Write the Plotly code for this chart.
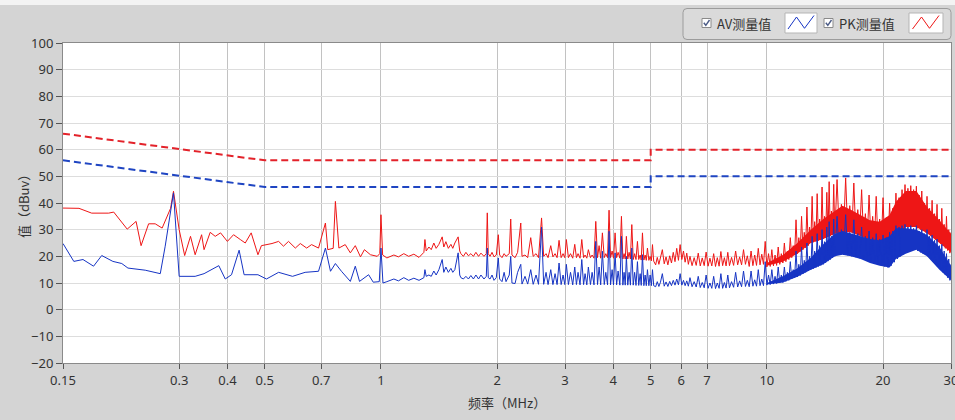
import plotly.graph_objects as go

# ---------------- data ----------------
TICK_VALS = [0.15, 0.3, 0.4, 0.5, 0.7, 1, 2, 3, 4, 5, 6, 7, 10, 20, 30]
TICK_TEXT = ["0.15", "0.3", "0.4", "0.5", "0.7", "1", "2", "3", "4", "5", "6", "7", "10", "20", "30"]

LIMIT_FREQ = [0.15, 0.5, 5.0, 5.0, 30.0]
PK_LIMIT = [66, 56, 56, 60, 60]
AV_LIMIT = [56, 46, 46, 50, 50]

PK_LOW_FREQ = [
    0.150, 0.165, 0.178, 0.197, 0.203, 0.220, 0.232, 0.239, 0.250, 0.260,
    0.271, 0.285, 0.290, 0.300, 0.310, 0.321, 0.330, 0.343, 0.348, 0.361,
    0.372, 0.384, 0.400, 0.415, 0.432, 0.445, 0.461, 0.480, 0.490, 0.522,
    0.543, 0.559, 0.576, 0.600, 0.618, 0.642, 0.661, 0.689, 0.718, 0.728,
    0.752, 0.762, 0.778, 0.808, 0.833, 0.858, 0.885, 0.906, 0.939, 0.978,
    0.993, 1.000, 1.010]
PK_LOW = [
    38.1, 38.0, 36.2, 36.2, 36.6, 30.2, 33.1, 24.0, 32.2, 32.2,
    30.6, 38.0, 44.4, 30.0, 20.3, 27.5, 20.6, 28.1, 22.5, 29.0,
    27.5, 28.8, 25.6, 28.1, 26.3, 25.0, 28.8, 20.6, 24.0, 24.8,
    25.6, 23.8, 25.6, 23.1, 24.8, 23.1, 24.4, 23.1, 32.5, 22.5,
    23.0, 40.6, 23.1, 24.4, 21.3, 24.0, 19.8, 22.5, 20.6, 20.0,
    21.0, 35.6, 20.5]

AV_LOW_FREQ = [
    0.150, 0.160, 0.169, 0.180, 0.189, 0.202, 0.213, 0.221, 0.245, 0.268,
    0.276, 0.290, 0.300, 0.330, 0.348, 0.380, 0.395, 0.410, 0.429, 0.442,
    0.480, 0.505, 0.543, 0.590, 0.636, 0.689, 0.718, 0.740, 0.762, 0.790,
    0.833, 0.858, 0.880, 0.929, 0.955, 0.990, 1.000, 1.012]
AV_LOW = [
    24.8, 18.1, 18.8, 16.3, 20.3, 18.1, 17.3, 15.6, 14.8, 13.5,
    23.8, 43.8, 12.5, 12.5, 13.5, 16.5, 11.5, 13.1, 22.3, 13.1,
    13.1, 11.5, 14.0, 12.5, 14.0, 14.4, 23.1, 14.4, 17.3, 14.4,
    10.6, 16.3, 10.6, 13.1, 10.3, 10.5, 23.1, 10.0]

FREQ_1_5 = [
    1.036, 1.080, 1.110, 1.146, 1.180, 1.217, 1.255, 1.292, 1.300, 1.310,
    1.331, 1.350, 1.371, 1.390, 1.413, 1.441, 1.455, 1.473, 1.495, 1.518,
    1.535, 1.554, 1.585, 1.600, 1.611, 1.635, 1.660, 1.685, 1.710, 1.736,
    1.762, 1.790, 1.816, 1.849, 1.875, 1.886, 1.897, 1.917, 1.940, 1.963,
    1.990, 2.014, 2.030, 2.059, 2.085, 2.109, 2.150, 2.169, 2.185, 2.226,
    2.260, 2.303, 2.320, 2.362, 2.400, 2.444, 2.480, 2.523, 2.560, 2.607,
    2.640, 2.678, 2.710, 2.754, 2.790, 2.826, 2.860, 2.894, 2.930, 2.964,
    2.995, 3.023, 3.060, 3.099, 3.140, 3.178, 3.210, 3.241, 3.280, 3.314,
    3.350, 3.380, 3.415, 3.447, 3.490, 3.525, 3.565, 3.603, 3.640, 3.675,
    3.710, 3.748, 3.790, 3.825, 3.865, 3.900, 3.935, 3.972, 4.005, 4.043,
    4.080, 4.116, 4.160, 4.199, 4.235, 4.266, 4.295, 4.325, 4.360, 4.396,
    4.430, 4.467, 4.505, 4.543, 4.580, 4.620, 4.655, 4.695, 4.725, 4.760,
    4.800, 4.837, 4.870, 4.904, 4.945, 4.983, 5.020, 5.053, 5.090]
PK_1_5 = [
    19.4, 20.5, 19.8, 21.0, 20.0, 20.8, 19.6, 21.5, 26.3, 22.0,
    23.5, 22.5, 25.0, 23.0, 24.5, 27.3, 23.5, 25.5, 23.0, 24.5,
    23.0, 25.0, 27.3, 22.0, 21.0, 20.0, 21.5, 20.2, 21.0, 20.0,
    21.5, 20.0, 21.2, 20.0, 21.0, 36.3, 21.0, 20.0, 21.5, 19.8,
    20.5, 28.1, 20.5, 19.5, 21.0, 20.0, 21.0, 34.0, 20.5, 19.5,
    21.5, 32.5, 20.0, 20.5, 19.5, 27.0, 20.0, 21.0, 19.5, 34.4,
    20.0, 21.0, 19.5, 24.0, 19.8, 21.0, 19.5, 26.0, 19.5, 21.0,
    19.5, 26.3, 19.5, 21.0, 19.3, 24.5, 19.5, 21.0, 19.3, 26.3,
    19.5, 20.5, 19.3, 22.5, 19.5, 20.5, 19.3, 33.1, 19.5, 24.0,
    19.3, 28.8, 19.5, 21.0, 19.5, 37.3, 19.5, 22.0, 19.3, 28.8,
    19.5, 21.5, 19.3, 35.0, 19.0, 21.0, 19.0, 27.5, 19.0, 21.5,
    19.0, 31.9, 18.8, 21.0, 18.8, 25.6, 18.8, 20.5, 18.6, 28.8,
    18.6, 20.5, 18.5, 23.1, 18.5, 20.0, 18.3, 24.4, 18.2]
AV_1_5 = [
    10.5, 11.5, 10.8, 12.0, 11.0, 11.8, 11.0, 12.0, 15.0, 12.5,
    13.0, 12.5, 14.5, 13.0, 15.0, 18.8, 14.0, 16.0, 14.0, 15.5,
    14.0, 15.0, 21.3, 13.0, 12.0, 11.5, 12.5, 11.5, 12.8, 11.5,
    13.0, 11.5, 13.0, 11.5, 12.5, 23.1, 12.0, 11.5, 13.0, 11.0,
    12.0, 19.4, 11.5, 10.5, 14.0, 10.5, 13.0, 20.0, 10.0, 9.8,
    14.0, 17.0, 9.6, 12.5, 9.6, 15.0, 9.5, 13.0, 9.5, 31.0,
    9.5, 14.0, 9.4, 15.0, 9.4, 13.5, 9.4, 17.5, 9.4, 13.0,
    9.4, 17.0, 9.4, 14.0, 9.3, 16.0, 9.4, 14.0, 9.3, 18.8,
    9.4, 13.5, 9.3, 16.0, 9.4, 14.0, 9.3, 25.6, 9.4, 16.0,
    9.3, 21.9, 9.4, 14.0, 9.3, 29.4, 9.3, 15.0, 9.3, 21.3,
    9.3, 14.5, 9.2, 27.5, 9.2, 14.0, 9.2, 20.0, 9.2, 14.0,
    9.2, 23.1, 9.2, 14.0, 9.1, 18.0, 9.1, 13.5, 9.1, 20.6,
    9.0, 13.0, 9.0, 15.0, 9.0, 13.0, 9.0, 15.0, 9.0]

FREQ_5_10 = [
    5.15, 5.20, 5.25, 5.30, 5.36, 5.42, 5.48, 5.54, 5.60, 5.66,
    5.72, 5.78, 5.84, 5.90, 5.96, 6.02, 6.08, 6.14, 6.20, 6.26,
    6.32, 6.40, 6.48, 6.56, 6.64, 6.72, 6.80, 6.88, 6.96, 7.04,
    7.12, 7.20, 7.28, 7.36, 7.44, 7.52, 7.60, 7.68, 7.76, 7.84,
    7.92, 8.00, 8.10, 8.20, 8.30, 8.40, 8.50, 8.60, 8.70, 8.80,
    8.90, 9.00, 9.10, 9.20, 9.30, 9.40, 9.50, 9.60, 9.70, 9.80,
    9.90]
PK_5_10 = [
    16.8, 19.6, 17.0, 19.2, 22.5, 17.2, 19.8, 16.8, 20.2, 17.5,
    21.5, 18.0, 23.0, 18.5, 24.4, 18.8, 22.0, 17.8, 21.2, 17.0,
    20.0, 16.5, 19.5, 16.6, 21.2, 16.4, 19.4, 16.5, 21.6, 16.3,
    19.3, 16.4, 21.0, 16.2, 19.5, 16.3, 21.8, 16.5, 19.5, 16.4,
    21.5, 16.5, 19.6, 16.6, 22.0, 16.8, 19.8, 16.8, 22.5, 17.0,
    20.2, 16.2, 22.0, 16.5, 20.5, 16.6, 23.0, 16.8, 20.8, 17.0,
    25.6]
AV_5_10 = [
    8.6, 10.5, 8.7, 10.3, 13.5, 8.8, 10.4, 8.7, 10.6, 9.0,
    11.0, 9.2, 11.5, 9.3, 13.5, 9.2, 11.0, 9.0, 10.8, 8.8,
    12.0, 8.6, 10.5, 8.5, 12.5, 8.3, 10.2, 8.2, 13.0, 8.0,
    10.0, 8.0, 12.5, 7.9, 10.0, 8.0, 13.5, 8.0, 10.2, 8.1,
    13.0, 8.2, 10.5, 8.4, 14.0, 8.5, 10.8, 8.6, 14.5, 8.7,
    11.0, 8.6, 14.5, 8.8, 11.2, 8.8, 15.0, 9.0, 11.5, 9.0,
    18.0]

FREQ_10_30 = [
    10.0, 10.1, 10.2, 10.3, 10.4, 10.5, 10.6, 10.7, 10.8, 10.9,
    11.0, 11.1, 11.2, 11.3, 11.4, 11.5, 11.6, 11.7, 11.8, 11.9,
    12.0, 12.1, 12.2, 12.3, 12.4, 12.5, 12.6, 12.7, 12.8, 12.9,
    13.0, 13.1, 13.2, 13.3, 13.4, 13.5, 13.6, 13.7, 13.8, 13.9,
    14.0, 14.1, 14.2, 14.3, 14.4, 14.5, 14.6, 14.7, 14.8, 14.9,
    15.0, 15.2, 15.4, 15.6, 15.8, 16.0, 16.2, 16.4, 16.6, 16.8,
    17.0, 17.2, 17.4, 17.6, 17.8, 18.0, 18.2, 18.4, 18.6, 18.8,
    19.0, 19.2, 19.4, 19.6, 19.8, 20.0, 20.2, 20.4, 20.6, 20.8,
    21.0, 21.2, 21.4, 21.6, 21.8, 22.0, 22.2, 22.4, 22.6, 22.8,
    23.0, 23.2, 23.4, 23.6, 23.8, 24.0, 24.2, 24.4, 24.6, 24.8,
    25.0, 25.2, 25.4, 25.6, 25.8, 26.0, 26.2, 26.4, 26.6, 26.8,
    27.0, 27.2, 27.4, 27.6, 27.8, 28.0, 28.2, 28.4, 28.6, 28.8,
    29.0, 29.2, 29.4, 29.6, 29.8, 30.0]
PK_10_30 = [
    16.0, 21.0, 16.2, 22.5, 16.4, 20.5, 16.6, 23.5, 17.0, 21.0,
    17.5, 25.0, 18.0, 22.0, 18.8, 27.0, 19.5, 24.0, 20.5, 33.7,
    21.0, 27.0, 21.8, 35.0, 22.5, 29.0, 23.2, 38.5, 24.0, 31.0,
    25.0, 42.5, 25.3, 33.0, 25.6, 43.5, 25.9, 34.0, 26.2, 46.0,
    26.5, 35.0, 27.0, 44.0, 27.3, 48.0, 27.6, 37.0, 28.0, 47.0,
    28.5, 48.8, 29.0, 39.5, 29.0, 49.4, 29.2, 39.0, 29.0, 47.5,
    28.5, 37.5, 28.0, 45.0, 27.5, 36.0, 27.0, 43.0, 26.5, 35.0,
    26.0, 42.5, 25.5, 34.0, 25.0, 42.0, 24.5, 34.5, 24.0, 40.0,
    25.0, 38.0, 26.5, 43.7, 28.0, 42.0, 29.0, 45.0, 30.5, 46.9,
    31.0, 45.5, 31.0, 46.5, 31.2, 45.0, 31.0, 46.3, 30.5, 43.0,
    30.0, 44.5, 29.5, 40.0, 29.0, 42.5, 28.5, 38.0, 27.8, 41.0,
    27.0, 36.0, 26.2, 39.5, 25.5, 34.0, 24.8, 38.0, 24.0, 32.0,
    23.0, 35.0, 22.2, 30.0, 21.2, 29.0]
AV_10_30 = [
    9.2, 13.0, 9.4, 15.0, 9.6, 12.5, 9.8, 16.0, 10.0, 13.0,
    10.2, 16.0, 10.6, 14.0, 11.0, 18.0, 11.5, 15.0, 12.0, 22.0,
    12.3, 17.0, 12.8, 23.5, 13.4, 18.5, 14.0, 25.0, 14.5, 20.0,
    15.0, 27.5, 15.4, 22.0, 15.8, 28.5, 16.2, 24.0, 16.6, 30.0,
    17.0, 25.5, 17.6, 31.0, 18.2, 33.0, 18.8, 27.5, 19.4, 34.0,
    20.0, 35.0, 20.6, 30.0, 20.6, 35.6, 20.4, 29.0, 20.0, 33.7,
    19.7, 28.5, 19.3, 31.0, 19.0, 27.5, 18.5, 29.5, 17.8, 27.0,
    17.3, 28.5, 17.0, 26.5, 16.6, 28.0, 16.2, 27.0, 15.8, 29.0,
    16.5, 29.5, 17.8, 31.5, 19.0, 31.0, 20.0, 31.5, 20.8, 32.0,
    21.5, 31.0, 22.0, 31.5, 22.3, 30.5, 22.5, 31.5, 22.0, 29.5,
    21.5, 30.0, 21.0, 28.5, 20.5, 30.0, 19.8, 27.5, 19.0, 28.0,
    18.0, 26.0, 17.0, 26.5, 16.0, 24.0, 15.0, 24.5, 14.0, 22.0,
    13.0, 21.0, 12.0, 19.0, 11.0, 17.0]

# dense core of the high-frequency emission bands
BAND_FREQ = [10.0, 11.0, 12.0, 13.0, 14.0, 15.0, 15.7, 16.5, 17.5,
             18.5, 19.6, 20.8, 21.6, 22.9, 24.4, 26.0, 28.0, 30.0]
PK_BAND_LOW = [16.5, 18.0, 21.0, 25.0, 26.5, 28.5, 29.0, 29.0, 27.5,
               26.0, 25.0, 24.0, 27.0, 31.0, 31.0, 28.7, 25.0, 21.5]
PK_BAND_TOP = [17.5, 20.5, 25.0, 30.0, 34.0, 37.0, 39.0, 37.5, 35.5,
               33.5, 33.0, 35.5, 40.5, 44.5, 44.5, 38.5, 33.5, 28.5]
AV_BAND_LOW = [9.4, 10.2, 12.3, 15.0, 17.0, 20.0, 20.6, 20.0, 19.0,
               17.5, 16.5, 15.8, 19.0, 21.0, 22.5, 20.0, 15.0, 11.0]
AV_BAND_TOP = [10.0, 12.5, 15.5, 19.5, 24.5, 28.5, 29.5, 28.5, 27.5,
               26.5, 26.0, 27.5, 30.5, 30.5, 30.0, 28.0, 23.5, 16.5]

assert len(PK_LOW_FREQ) == len(PK_LOW)
assert len(AV_LOW_FREQ) == len(AV_LOW)
assert len(FREQ_1_5) == len(PK_1_5) == len(AV_1_5)
assert len(FREQ_5_10) == len(PK_5_10) == len(AV_5_10)
assert len(FREQ_10_30) == len(PK_10_30) == len(AV_10_30)
assert len(BAND_FREQ) == len(PK_BAND_LOW) == len(PK_BAND_TOP) == len(AV_BAND_LOW) == len(AV_BAND_TOP)

# ---------------- styling ----------------
PK_COLOR = "rgb(238,22,22)"
AV_COLOR = "rgb(22,52,196)"
PK_LIM_COLOR = "#e3222a"
AV_LIM_COLOR = "#1f45c2"
TXT = "#333333"
FONT = "Noto Sans, Noto Sans CJK SC, sans-serif"
CJK = "Noto Sans CJK SC, Noto Sans, sans-serif"

W, H = 955, 420
ML, MR, MT, MB = 63, 4, 43, 57
PW, PH = W - ML - MR, H - MT - MB


def px(x):
    return (x - ML) / PW


def py(y):
    return (H - MB - y) / PH


fig = go.Figure()

pk_x = PK_LOW_FREQ + FREQ_1_5 + FREQ_5_10 + FREQ_10_30
pk_y = PK_LOW + PK_1_5 + PK_5_10 + PK_10_30
av_x = AV_LOW_FREQ + FREQ_1_5 + FREQ_5_10 + FREQ_10_30
av_y = AV_LOW + AV_1_5 + AV_5_10 + AV_10_30

fig.add_trace(go.Scatter(x=BAND_FREQ, y=PK_BAND_LOW, mode="lines",
                         line=dict(width=0, color=PK_COLOR), hoverinfo="skip"))
fig.add_trace(go.Scatter(x=BAND_FREQ, y=PK_BAND_TOP, mode="lines", fill="tonexty",
                         fillcolor=PK_COLOR, line=dict(width=0, color=PK_COLOR),
                         hoverinfo="skip"))
fig.add_trace(go.Scatter(x=pk_x, y=pk_y, mode="lines", name="PK测量值",
                         line=dict(color=PK_COLOR, width=1)))
fig.add_trace(go.Scatter(x=BAND_FREQ, y=AV_BAND_LOW, mode="lines",
                         line=dict(width=0, color=AV_COLOR), hoverinfo="skip"))
fig.add_trace(go.Scatter(x=BAND_FREQ, y=AV_BAND_TOP, mode="lines", fill="tonexty",
                         fillcolor=AV_COLOR, line=dict(width=0, color=AV_COLOR),
                         hoverinfo="skip"))
fig.add_trace(go.Scatter(x=av_x, y=av_y, mode="lines", name="AV测量值",
                         line=dict(color=AV_COLOR, width=1)))
fig.add_trace(go.Scatter(x=LIMIT_FREQ, y=PK_LIMIT, mode="lines",
                         line=dict(color=PK_LIM_COLOR, width=2, dash="7px,4px")))
fig.add_trace(go.Scatter(x=LIMIT_FREQ, y=AV_LIMIT, mode="lines",
                         line=dict(color=AV_LIM_COLOR, width=2, dash="7px,4px")))

# ---------------- legend box (drawn like the instrument software) ----------------
shapes = []
shapes.append(dict(type="rect", xref="paper", yref="paper",
                   x0=px(0), x1=px(W), y0=py(5), y1=py(0),
                   fillcolor="#f3f3f3", line=dict(width=0), layer="below"))


def rounded(x0, y0, x1, y1, r):
    return (f"M {px(x0 + r)},{py(y0)} L {px(x1 - r)},{py(y0)} "
            f"Q {px(x1)},{py(y0)} {px(x1)},{py(y0 + r)} "
            f"L {px(x1)},{py(y1 - r)} Q {px(x1)},{py(y1)} {px(x1 - r)},{py(y1)} "
            f"L {px(x0 + r)},{py(y1)} Q {px(x0)},{py(y1)} {px(x0)},{py(y1 - r)} "
            f"L {px(x0)},{py(y0 + r)} Q {px(x0)},{py(y0)} {px(x0 + r)},{py(y0)} Z")


shapes.append(dict(type="path", xref="paper", yref="paper",
                   path=rounded(683, 8.5, 951, 39.5, 4),
                   fillcolor="#dadada", line=dict(color="#9c9c9c", width=1)))


def checkbox(x0):
    return [
        dict(type="rect", xref="paper", yref="paper",
             x0=px(x0), x1=px(x0 + 9), y0=py(27.5), y1=py(18.5),
             fillcolor="#ffffff", line=dict(color="#8a8a8a", width=1)),
        dict(type="path", xref="paper", yref="paper",
             path=f"M {px(x0 + 1.8)},{py(22.8)} L {px(x0 + 3.8)},{py(25.3)} L {px(x0 + 7.5)},{py(20.0)}",
             line=dict(color="#4b5b86", width=1.4)),
    ]


def icon(x0, x1, pts, color):
    d = "M " + " L ".join(f"{px(a)},{py(b)}" for a, b in pts)
    return [
        dict(type="rect", xref="paper", yref="paper",
             x0=px(x0), x1=px(x1), y0=py(33), y1=py(13),
             fillcolor="#ffffff", line=dict(color="#b5b5b5", width=1)),
        dict(type="path", xref="paper", yref="paper", path=d,
             line=dict(color=color, width=1)),
    ]


shapes += checkbox(702)
shapes += icon(785, 817, [(788, 29), (796.5, 17), (804.5, 28.3), (814, 15.5)], AV_COLOR)
shapes += checkbox(824)
shapes += icon(909, 943, [(912.5, 29), (921.5, 17), (929.5, 28.3), (939, 15.5)], PK_COLOR)

annotations = [
    dict(text="AV测量值", xref="paper", yref="paper", x=px(715), y=py(23),
         xanchor="left", yanchor="middle", showarrow=False,
         font=dict(family=CJK, size=13, color=TXT)),
    dict(text="PK测量值", xref="paper", yref="paper", x=px(837), y=py(23),
         xanchor="left", yanchor="middle", showarrow=False,
         font=dict(family=CJK, size=13, color=TXT)),
    dict(text="值（dBuv）", xref="paper", yref="paper", x=px(23), y=py(203),
         xanchor="center", yanchor="middle", textangle=-90, showarrow=False,
         font=dict(family=CJK, size=13, color=TXT)),
    dict(text="频率（MHz）", xref="paper", yref="paper", x=px(507), y=py(402),
         xanchor="center", yanchor="middle", showarrow=False,
         font=dict(family=CJK, size=13, color=TXT)),
]

fig.update_layout(
    width=W, height=H,
    margin=dict(l=ML, r=MR, t=MT, b=MB, autoexpand=False),
    paper_bgcolor="#d4d4d4", plot_bgcolor="#ffffff",
    showlegend=False,
    font=dict(family=FONT, size=13, color=TXT),
    shapes=shapes, annotations=annotations,
    hovermode=False,
)
fig.update_xaxes(
    type="log", range=[-0.823909, 1.477121],
    tickvals=TICK_VALS, ticktext=TICK_TEXT,
    ticks="outside", ticklen=5, tickcolor="#555555",
    ticklabeloverflow="allow", automargin=False,
    showgrid=True, gridcolor="#c2c2c2", gridwidth=1,
    showline=True, linecolor="#8a8a8a", linewidth=1, mirror=True,
    zeroline=False, tickfont=dict(family=FONT, size=13, color=TXT),
)
fig.update_yaxes(
    range=[-20, 100], dtick=10, tick0=0, automargin=False,
    ticks="outside", ticklen=6, tickcolor="#555555",
    showgrid=True, gridcolor="#dddddd", gridwidth=1,
    showline=True, linecolor="#8a8a8a", linewidth=1, mirror=True,
    zeroline=False, tickfont=dict(family=FONT, size=13, color=TXT),
)

fig.write_html("out.html")
